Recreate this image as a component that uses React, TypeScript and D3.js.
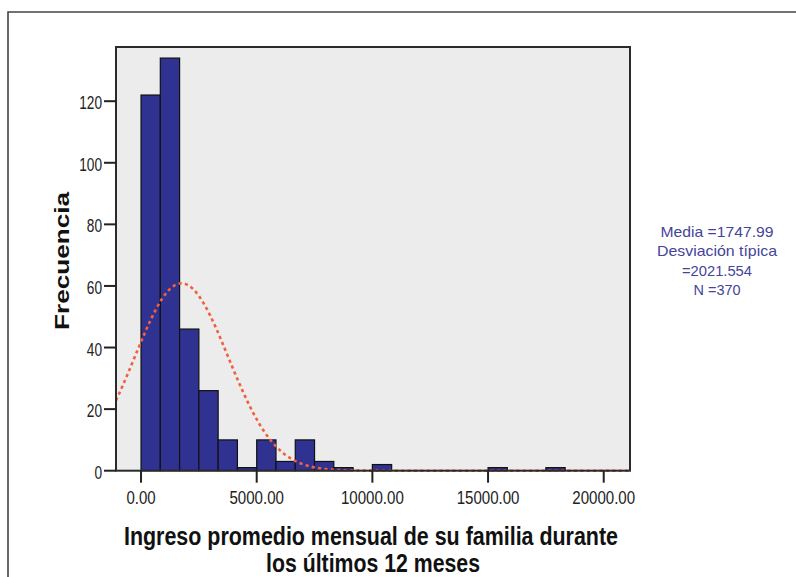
import React from "react";
import * as d3 from "d3";

const binWidth = 20000 / 24;
const binCounts = [122, 134, 46, 26, 10, 1, 10, 3, 10, 3, 1, 0, 2, 0, 0, 0, 0, 0, 1, 0, 0, 1];
const yTicks = [0, 20, 40, 60, 80, 100, 120];
const xTicks = [0, 5000, 10000, 15000, 20000];
const meanValue = 1747.99;
const stdValue = 2021.554;
const nValue = 370;
const statsLines = ["Media =1747.99", "Desviación típica", "=2021.554", "N =370"];
const statsLengths = [113, 120, 70, 47];
const xTitleLines = ["Ingreso promedio mensual de su familia durante", "los últimos 12 meses"];
const xTitleLengths = [494, 214];
const yTitle = "Frecuencia";

const W = 796;
const H = 577;
const plotL = 116;
const plotR = 630;
const plotT = 47;
const plotB = 470.7;

export default function App() {
  const x = d3.scaleLinear().domain([-1082, 21136]).range([plotL, plotR]);
  const y = d3.scaleLinear().domain([0, 137.6]).range([plotB, plotT]);

  const bars = binCounts
    .map((c, i) => ({ x0: i * binWidth, x1: (i + 1) * binWidth, c }))
    .filter((b) => b.c > 0);

  const pdf = (v: number) =>
    (nValue * binWidth) / (stdValue * Math.sqrt(2 * Math.PI)) *
    Math.exp(-0.5 * Math.pow((v - meanValue) / stdValue, 2));
  const curvePts = d3.range(0, 301).map((i) => {
    const v = -1082 + ((21136 + 1082) * i) / 300;
    return [x(v), y(pdf(v))] as [number, number];
  });
  const line = d3.line().curve(d3.curveBasis)(curvePts) || "";

  const digitW = (s: string, dw: number, pw: number) =>
    s.split("").reduce((a, ch) => a + (ch === "." ? pw : dw), 0);

  return (
    <svg width={W} height={H} style={{ display: "block", position: "absolute", left: 0, top: 0 }}>
      <rect x={0} y={0} width={W} height={H} fill="#ffffff" />
      <path d={`M 800 12 H 8 V 590`} fill="none" stroke="#444" strokeWidth={1.6} />
      <rect x={plotL} y={plotT} width={plotR - plotL} height={plotB - plotT} fill="#ececec" />
      {bars.map((b, i) => (
        <rect
          key={i}
          x={x(b.x0)}
          y={y(b.c)}
          width={x(b.x1) - x(b.x0)}
          height={plotB - y(b.c)}
          fill="#2f3290"
          stroke="#111"
          strokeWidth={1.2}
        />
      ))}
      <path d={line} fill="none" stroke="#f0603f" strokeWidth={2.6} strokeDasharray="3.2 3.2" />
      <rect x={plotL} y={plotT} width={plotR - plotL} height={plotB - plotT} fill="none" stroke="#2a2a2a" strokeWidth={2} />
      {yTicks.map((t) => (
        <g key={t}>
          <line x1={104} x2={plotL} y1={y(t)} y2={y(t)} stroke="#222" strokeWidth={2} />
          <text
            x={102}
            y={y(t) + 8}
            textAnchor="end"
            fontFamily="Liberation Sans, Arial, sans-serif"
            fontSize={19}
            fill="#222"
            textLength={digitW(String(t), 7.6, 4)}
            lengthAdjust="spacingAndGlyphs"
          >
            {t}
          </text>
        </g>
      ))}
      {xTicks.map((t) => {
        const s = t.toFixed(2);
        return (
          <g key={t}>
            <line x1={x(t)} x2={x(t)} y1={plotB} y2={plotB + 12} stroke="#222" strokeWidth={2} />
            <text
              x={x(t)}
              y={504}
              textAnchor="middle"
              fontFamily="Liberation Sans, Arial, sans-serif"
              fontSize={18}
              fill="#222"
              textLength={digitW(s, 8.4, 4)}
              lengthAdjust="spacingAndGlyphs"
            >
              {s}
            </text>
          </g>
        );
      })}
      {xTitleLines.map((l, i) => (
        <text
          key={i}
          x={i === 0 ? 371 : 373}
          y={545 + i * 27}
          textAnchor="middle"
          fontFamily="Liberation Sans, Arial, sans-serif"
          fontWeight="bold"
          fontSize={26}
          fill="#111"
          textLength={xTitleLengths[i]}
          lengthAdjust="spacingAndGlyphs"
        >
          {l}
        </text>
      ))}
      <text
        transform={`translate(69,261) rotate(-90)`}
        textAnchor="middle"
        fontFamily="Liberation Sans, Arial, sans-serif"
        fontWeight="bold"
        fontSize={19.5}
        fill="#111"
        textLength={138}
        lengthAdjust="spacingAndGlyphs"
      >
        {yTitle}
      </text>
      {statsLines.map((l, i) => (
        <text
          key={i}
          x={717}
          y={237 + i * 19.3}
          textAnchor="middle"
          fontFamily="Liberation Sans, Arial, sans-serif"
          fontSize={15}
          fill="#44449a"
          textLength={statsLengths[i]}
          lengthAdjust="spacingAndGlyphs"
        >
          {l}
        </text>
      ))}
    </svg>
  );
}
